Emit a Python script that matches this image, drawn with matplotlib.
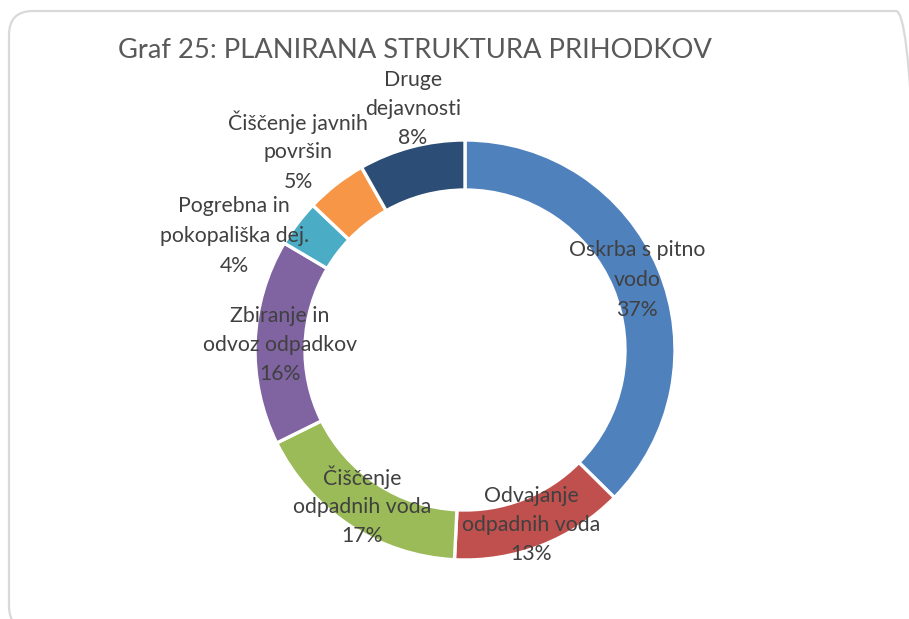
import matplotlib
matplotlib.use("Agg")
import matplotlib.pyplot as plt
from matplotlib.patches import FancyBboxPatch

title = "Graf 25: PLANIRANA STRUKTURA PRIHODKOV"
categories = [
    "Oskrba s pitno\nvodo",
    "Odvajanje\nodpadnih voda",
    "Čiščenje\nodpadnih voda",
    "Zbiranje in\nodvoz odpadkov",
    "Pogrebna in\npokopališka dej.",
    "Čiščenje javnih\npovršin",
    "Druge\ndejavnosti",
]
values = [37.4, 13.4, 16.9, 15.8, 3.6, 4.7, 8.2]
colors = ["#4F81BD", "#C0504D", "#9BBB59", "#8064A2", "#4BACC6", "#F79646", "#2C4D75"]

# label centre positions (pixels from top-left), layout only
label_pos = [(637, 280), (531, 525), (362, 507), (280, 345), (234, 236), (298, 152), (413, 109)]

W, H = 909, 619
fig = plt.figure(figsize=(W / 100, H / 100), dpi=100)
ax = fig.add_axes([0, 0, 1, 1])

cx, cy = 465, 350
ax.pie(values, radius=210, center=(cx, H - cy), startangle=90, counterclock=False,
       colors=colors, wedgeprops=dict(width=50, edgecolor="white", linewidth=2.4))
ax.set_xlim(0, W)
ax.set_ylim(0, H)
ax.set_aspect("equal")
ax.axis("off")

frame = FancyBboxPatch((9, H - 630), 911, 619, boxstyle="round,pad=0,rounding_size=24",
                       transform=ax.transData, facecolor="none", edgecolor="#D9D9D9",
                       linewidth=1.6, clip_on=False)
ax.add_patch(frame)

font = "Lato"
ax.text(118, H - 50, title, fontsize=19.7, color="#595959", family=font,
        ha="left", va="center")

step = 29.5
for name, v, (x, y) in zip(categories, values, label_pos):
    lines = name.split("\n") + [f"{round(v)}%"]
    n = len(lines)
    for i, line in enumerate(lines):
        yy = y + (i - (n - 1) / 2) * step
        ax.text(x, H - yy, line, fontsize=15.3, color="#404040", family=font,
                ha="center", va="center")

fig.savefig("out.png", dpi=100)
